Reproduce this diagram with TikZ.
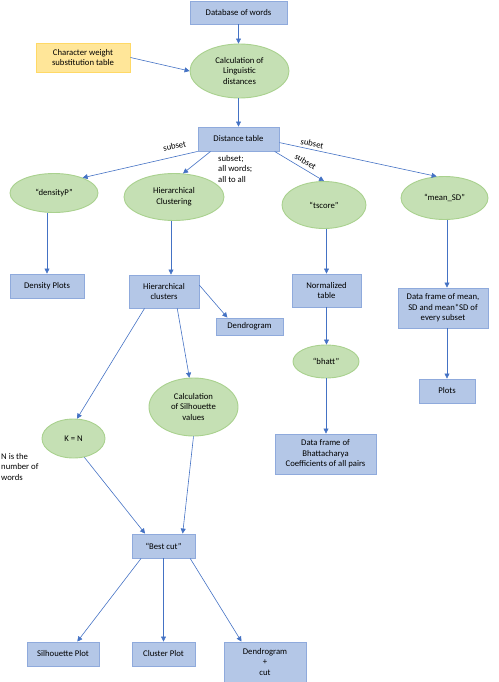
\documentclass[tikz,border=0pt]{standalone}
\usepackage{fontspec}
\setmainfont{Carlito}
\usetikzlibrary{arrows.meta,shapes.geometric,positioning,calc}
\definecolor{boxfill}{HTML}{B4C7E7}
\definecolor{boxline}{HTML}{8FAADC}
\definecolor{ovfill}{HTML}{C5E0B4}
\definecolor{ovline}{HTML}{A9D18E}
\definecolor{ylfill}{HTML}{FFE699}
\definecolor{ylline}{HTML}{FFD966}
\definecolor{arrblue}{HTML}{4472C4}
\tikzset{
  bx/.style={align=center, inner sep=1pt, font=\fontsize{8.7}{10.6}\selectfont},
  blk/.style={bx, rectangle, draw=boxline, fill=boxfill, line width=0.9pt},
  ov/.style={bx, ellipse, draw=ovline, fill=ovfill, line width=0.9pt},
  src/.style={bx, rectangle, draw=ylline, fill=ylfill, line width=0.9pt},
  arr/.style={-{Triangle[length=5pt, width=5pt]}, line width=0.6pt, color=arrblue},
  lbl/.style={font=\fontsize{8.7}{10.6}\selectfont, text=black, inner sep=1pt},
}

\begin{document}
\begin{tikzpicture}[x=1pt, y=-1pt]
    \useasboundingbox (0,0) rectangle (498,682);
    % inputs and distances
    \node[blk, minimum width=97, minimum height=23] (db) at (238.5,12.5) {Database of words};
    \node[src, minimum width=94, minimum height=29] (cw) at (83,57.5) {Character weight\\substitution table};
    \node[ov, minimum width=99, minimum height=54] (calc) at (239.5,71) {Calculation of\\Linguistic\\distances};
    \node[blk, minimum width=81, minimum height=24] (dist) at (238.5,139) {Distance table};
    \draw[arr] (db.south) -- (db.south |- calc.north);
    \draw[arr] (cw.east) -- (calc.west);
    \draw[arr] (dist.north |- calc.south) -- (dist.north);
    % four branches
    \node[ov, minimum width=88, minimum height=39] (dens) at (54,193) {``densityP''};
    \node[ov, minimum width=100, minimum height=47] (hc) at (174,197) {Hierarchical\\Clustering};
    \node[ov, minimum width=84, minimum height=47] (ts) at (324,205) {``tscore''};
    \node[ov, minimum width=87, minimum height=43] (msd) at (444.5,198) {``mean\_SD''};
    \draw[arr] (dist.south west) -- (dens.28) node[lbl, pos=0.18, above=6pt, sloped] {subset};
    \draw[arr] (dist.-156) -- (hc.69);
    \node[lbl, anchor=north west, align=left] (allw) at (217,154) {subset;\\all words;\\all to all};
    \draw[arr] (dist.-19) -- (ts.north) node[lbl, pos=0.55, above=3pt, sloped] {subset};
    \draw[arr] (dist.-5) -- (msd.110) node[lbl, pos=0.2, above=1.5pt, sloped] {subset};
    % results
    \node[blk, minimum width=74, minimum height=24] (dplot) at (47,286) {Density Plots};
    \node[blk, minimum width=70, minimum height=33] (hcl) at (164,291.5) {Hierarchical\\clusters};
    \node[blk, minimum width=69, minimum height=33] (norm) at (326.5,290.5) {Normalized\\table};
    \node[blk, minimum width=90, minimum height=40] (mdf) at (443,308) {Data frame of mean,\\SD and mean*SD of\\every subset};
    \node[blk, minimum width=67, minimum height=17] (dend) at (249.5,326.5) {Dendrogram};
    \node[ov, minimum width=66, minimum height=33] (bh) at (326,361.5) {``bhatt''};
    \node[blk, minimum width=56, minimum height=24] (plots) at (447,391) {Plots};
    \node[blk, minimum width=101, minimum height=40] (bc) at (325.5,454) {Data frame of\\Bhattacharya\\Coefficients of all pairs};
    \coordinate (hcin) at ([xshift=7pt]hcl.north);
    \draw[arr] (dplot.north |- dens.south) -- (dplot.north);
    \draw[arr] (hc.south -| hcin) -- (hcin);
    \draw[arr] (norm.north |- ts.south) -- (norm.north);
    \draw[arr] (plots.north |- msd.south) -- (plots.north |- mdf.north);
    \draw[arr] (hcl.10) -- (dend.158);
    \draw[arr] (norm.south) -- (norm.south |- bh.north);
    \draw[arr] (bh.south) -- (bh.south |- bc.north);
    \draw[arr] (plots.north |- mdf.south) -- (plots.north);
    % silhouette and best cut
    \node[ov, minimum width=89, minimum height=58] (sil) at (193.5,407) {Calculation\\of Silhouette\\values};
    \node[ov, minimum width=63, minimum height=39] (kn) at (73.5,438.5) {K = N};
    \node[lbl, anchor=north west, align=left] (nnote) at (0,452) {N is the\\number of\\words};
    \node[blk, minimum width=63, minimum height=24] (best) at (163.5,546) {``Best cut''};
    \draw[arr] (hcl.-139) -- (kn.80);
    \draw[arr] (hcl.-52) -- (sil.98);
    \draw[arr] (kn.-60) -- (best.146);
    \draw[arr] (sil.south) -- (best.33);
    \node[blk, minimum width=72, minimum height=24] (splot) at (63,654) {Silhouette Plot};
    \node[blk, minimum width=63, minimum height=24] (cplot) at (163.5,654) {Cluster Plot};
    \node[blk, minimum width=82, minimum height=40] (dcut) at (265,662) {Dendrogram\\+\\cut};
    \draw[arr] (best.-151) -- (splot.41);
    \draw[arr] (best) -- (cplot);
    \draw[arr] (best.-25) -- (dcut.139);
\end{tikzpicture}
\end{document}
